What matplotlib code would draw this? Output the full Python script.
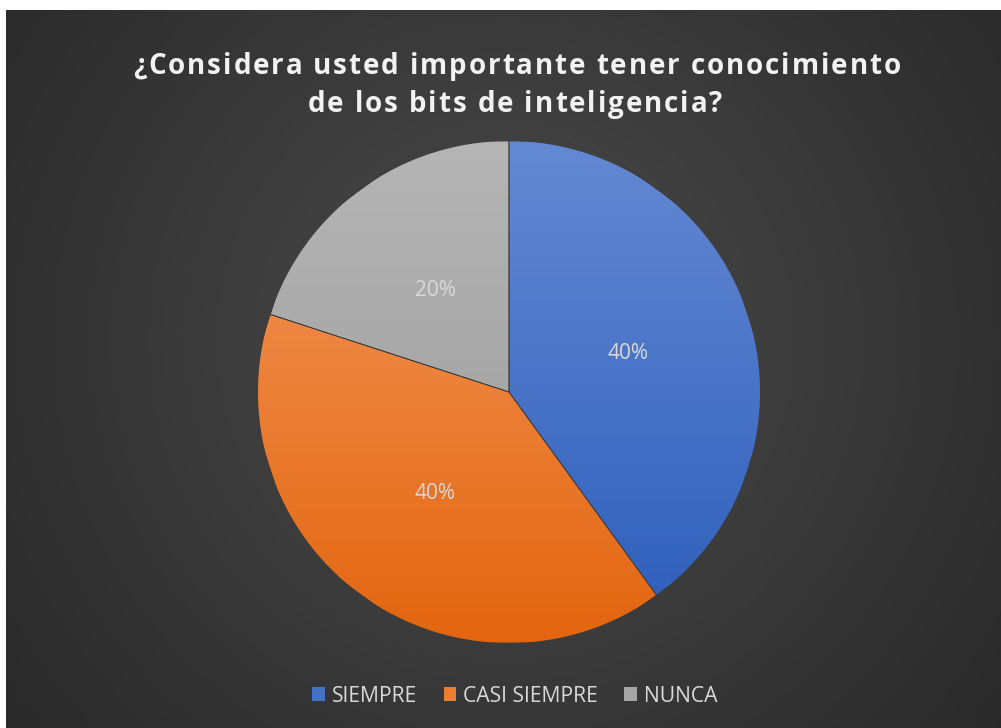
import matplotlib.pyplot as plt
import numpy as np
from matplotlib.colors import LinearSegmentedColormap
from matplotlib.patches import Patch

# Data from the image
labels = ['SIEMPRE', 'CASI SIEMPRE', 'NUNCA']
values = [40, 40, 20]
title_lines = ['¿Considera usted importante tener conocimiento', 'de los bits de inteligencia?']

# gradient colours per slice (top, bottom)
grads = [('#6489d3', '#2c5dbb'), ('#f49a5e', '#e3650f'), ('#b5b5b5', '#999999')]
flat = ['#4472c4', '#ed7d31', '#a5a5a5']

W, H = 1001, 728
fig = plt.figure(figsize=(W / 100, H / 100), dpi=100, facecolor='white')

# dark panel with radial gradient
bg = fig.add_axes([0, 0, 1, 1])
bg.set_xlim(0, W)
bg.set_ylim(H, 0)
bg.axis('off')
yy, xx = np.mgrid[10:H, 6:W]
d = np.sqrt((xx - 505) ** 2 + (yy - 340) ** 2) / 640
d = np.clip(d, 0, 1)
c0, c1 = 0x4e / 255, 0x29 / 255
g = c0 + (c1 - c0) * d ** 0.9
img = np.dstack([g, g, g])
bg.imshow(img, extent=[6, W, H, 10], aspect='auto', interpolation='bilinear')

# pie
cx, cy, r = 509, 392, 251
ax = fig.add_axes([(cx - r) / W, (H - cy - r) / H, 2 * r / W, 2 * r / H])
wedges, texts, autotexts = ax.pie(values, colors=flat, startangle=90, counterclock=False,
                                  autopct='%1.0f%%', pctdistance=0.5, radius=1,
                                  wedgeprops=dict(edgecolor='#3c3c3c', linewidth=0.6),
                                  textprops=dict(color='#d9d9d9', fontsize=15, family='Open Sans'))

grad = np.linspace(0, 1, 256).reshape(-1, 1)
for w, (top, bot) in zip(wedges, grads):
    cmap = LinearSegmentedColormap.from_list('g', [top, bot])
    im = ax.imshow(grad, cmap=cmap, extent=[-1, 1, -1, 1], aspect='auto', zorder=w.get_zorder() + 0.1)
    im.set_clip_path(w)
    edge = plt.Polygon(w.get_path().vertices, closed=True, transform=w.get_transform(), fill=False,
                       edgecolor='#3c3c3c', linewidth=0.6, zorder=w.get_zorder() + 0.2)
    ax.add_patch(edge)
for t in autotexts:
    t.set_zorder(10)
ax.set_xlim(-1, 1)
ax.set_ylim(-1, 1)
ax.set_aspect('auto')

# title with letter spacing, drawn char by char
renderer = fig.canvas.get_renderer()
tkw = dict(color='#f2f2f2', fontsize=20, fontweight='bold', family='Open Sans')
spacing = 1.9


def text_w(s):
    t = fig.text(0, 0, s, **tkw)
    w = t.get_window_extent(renderer).width
    t.remove()
    return w


bar_w = text_w('|')
for line, base, xc in zip(title_lines, [74, 112], [517, 515]):
    offs = [text_w(line[:i] + '|') - bar_w for i in range(len(line) + 1)]
    total = offs[-1] + spacing * (len(line) - 1)
    x0 = xc - total / 2
    for i, ch in enumerate(line):
        if ch == ' ':
            continue
        fig.text((x0 + offs[i] + spacing * i) / W, 1 - base / H, ch, ha='left', va='baseline', **tkw)

handles = [Patch(facecolor=c) for c in flat]
fig.legend(handles, labels, loc='center', bbox_to_anchor=(0.5145, 1 - 696 / H), ncol=3, frameon=False,
           labelcolor='#d9d9d9', prop={'family': 'Open Sans', 'size': 15.2},
           handlelength=0.6, handleheight=0.6, handletextpad=0.33, columnspacing=1.25)

fig.savefig('out.png', dpi=100, facecolor='white')
